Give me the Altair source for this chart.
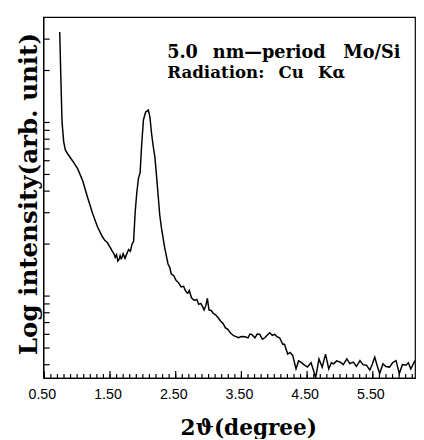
import altair as alt
import pandas as pd

# 2-theta (degree) and log intensity (arb. unit)
angle = [0.735, 0.750, 0.770, 0.795, 0.819, 0.860, 0.934, 1.009, 1.084, 1.159,
         1.234, 1.309, 1.384, 1.420, 1.459, 1.500, 1.534, 1.560, 1.579, 1.600,
         1.619, 1.640, 1.654, 1.670, 1.684, 1.700, 1.728, 1.750, 1.784, 1.810,
         1.834, 1.859, 1.883, 1.908, 1.934, 1.958, 1.983, 2.009, 2.043, 2.083,
         2.107, 2.133, 2.158, 2.182, 2.208, 2.233, 2.257, 2.283, 2.332, 2.383,
         2.410, 2.433, 2.470, 2.507, 2.540, 2.582, 2.620, 2.650, 2.683, 2.707,
         2.740, 2.782, 2.820, 2.850, 2.882, 2.910, 2.932, 2.960, 2.982, 3.006,
         3.040, 3.070, 3.107, 3.140, 3.182, 3.220, 3.257, 3.290, 3.331, 3.381,
         3.420, 3.456, 3.500, 3.556, 3.600, 3.630, 3.657, 3.706, 3.740, 3.781,
         3.820, 3.856, 3.890, 3.931, 3.970, 4.006, 4.040, 4.081, 4.130, 4.155,
         4.180, 4.205, 4.240, 4.280, 4.331, 4.370, 4.406, 4.450, 4.505, 4.560,
         4.605, 4.630, 4.680, 4.729, 4.780, 4.829, 4.870, 4.904, 4.950, 5.005,
         5.050, 5.104, 5.150, 5.204, 5.250, 5.304, 5.350, 5.403, 5.454, 5.490,
         5.529, 5.570, 5.604, 5.654, 5.700, 5.754, 5.800, 5.853, 5.903, 5.950,
         6.003, 6.040, 6.078, 6.110, 6.143]
intensity = [33.0, 19.2, 10.0, 7.71, 6.92, 6.51, 5.94, 5.36, 4.58, 3.67,
             2.98, 2.49, 2.18, 2.08, 2.02, 1.90, 1.80, 1.74, 1.66, 1.72,
             1.58, 1.62, 1.70, 1.63, 1.66, 1.74, 1.64, 1.72, 1.84, 1.80,
             1.97, 2.05, 3.02, 3.92, 4.76, 5.09, 7.51, 10.3, 11.4, 11.7,
             10.7, 8.55, 7.22, 6.34, 4.89, 3.77, 2.91, 2.45, 1.89, 1.52,
             1.45, 1.33, 1.30, 1.22, 1.19, 1.12, 1.13, 1.06, 1.03, 1.07,
             0.97, 0.937, 0.95, 0.89, 0.901, 0.86, 0.826, 0.88, 0.962, 0.826,
             0.82, 0.79, 0.774, 0.75, 0.713, 0.69, 0.651, 0.64, 0.610, 0.587,
             0.58, 0.571, 0.58, 0.579, 0.57, 0.60, 0.597, 0.571, 0.60, 0.597,
             0.56, 0.571, 0.59, 0.610, 0.59, 0.597, 0.58, 0.571, 0.524, 0.524,
             0.49, 0.460, 0.47, 0.452, 0.378, 0.42, 0.413, 0.40, 0.387, 0.41,
             0.362, 0.336, 0.431, 0.387, 0.460, 0.378, 0.41, 0.404, 0.42, 0.413,
             0.40, 0.431, 0.405, 0.413, 0.39, 0.422, 0.40, 0.397, 0.372, 0.40,
             0.441, 0.39, 0.355, 0.404, 0.39, 0.387, 0.41, 0.422, 0.355, 0.40,
             0.397, 0.41, 0.378, 0.40, 0.422]
assert len(angle) == len(intensity)

major_x = [0.5, 1.5, 2.5, 3.5, 4.5, 5.5]
minor_x = [0.5, 0.6, 0.7, 0.8, 0.9, 1.0, 1.1, 1.2, 1.3, 1.4, 1.5, 1.6, 1.7, 1.8,
           1.9, 2.0, 2.1, 2.2, 2.3, 2.4, 2.5, 2.6, 2.7, 2.8, 2.9, 3.0, 3.1, 3.2,
           3.3, 3.4, 3.5, 3.6, 3.7, 3.8, 3.9, 4.0, 4.1, 4.2, 4.3, 4.4, 4.5, 4.6,
           4.7, 4.8, 4.9, 5.0, 5.1, 5.2, 5.3, 5.4, 5.5, 5.6, 5.7, 5.8, 5.9, 6.0,
           6.1]
y_ticks = [0.4, 0.5, 0.6, 0.7, 0.8, 0.9, 1, 2, 3, 4, 5, 6, 7, 8, 9, 10, 20, 30]

note_lines = ["5.0\u2002 nm\u2014period\u2003Mo/Si", "Radiation:\u2002 Cu\u2002 K\u03b1"]
note_x = [2.37, 2.37]
note_y = [23.5, 17.9]

df = pd.DataFrame({"angle": angle, "intensity": intensity})
notes = pd.DataFrame({"text": note_lines, "x": note_x, "y": note_y,
                      "row": [0, 1]})
minor_df = pd.DataFrame({"t": minor_x})
major_df = pd.DataFrame({"t": major_x})

W, H = 379, 368
xscale = alt.Scale(domain=[0.485, 6.142], nice=False, zero=False)
yscale = alt.Scale(type="log", domain=[0.335, 40.2], nice=False)

yaxis = alt.Axis(values=y_ticks, labels=False, tickSize={"expr": "-6"},
                 title="Log intensity(arb. unit)", titleFont="DejaVu Serif",
                 titleFontWeight="bold", titleFontSize=25, titleColor="black",
                 titleX=-15, titleY=180, titleAngle=270, titleAlign="center",
                 titleBaseline="middle", grid=False, domainColor="black",
                 tickColor="black", domainWidth=1.2, tickWidth=1.2)

xaxis = alt.Axis(values=major_x, format=".2f", ticks=False,
                 orient="bottom", grid=False, domainColor="black",
                 domainWidth=1.2,
                 labelFont="Liberation Sans", labelFontSize=14.5,
                 labelColor="black", labelPadding=10, labelOffset=-2.5,
                 title="2\u03d1(degree)", titleFont="DejaVu Serif",
                 titleFontWeight="bold", titleFontSize=22, titleColor="black",
                 titleX=209, titleY=51, titleAlign="center",
                 titleBaseline="middle")

line = alt.Chart(df).mark_line(color="black", strokeWidth=1.5, clip=True).encode(
    x=alt.X("angle:Q", scale=xscale, axis=xaxis),
    y=alt.Y("intensity:Q", scale=yscale, axis=yaxis),
)

# inward x ticks along the bottom edge (minor every 0.1, major at the labels)
minor_ticks = alt.Chart(minor_df).mark_rule(color="black", strokeWidth=1.2).encode(
    x=alt.X("t:Q", scale=xscale, axis=xaxis),
    y=alt.value(H), y2=alt.value(H - 4),
)
major_ticks = alt.Chart(major_df).mark_rule(color="black", strokeWidth=1.2).encode(
    x=alt.X("t:Q", scale=xscale, axis=xaxis),
    y=alt.value(H), y2=alt.value(H - 7),
)


def note(row, size):
    return alt.Chart(notes).transform_filter(alt.datum.row == row).mark_text(
        align="left", baseline="alphabetic", font="DejaVu Serif",
        fontWeight="bold", fontSize=size, color="black"
    ).encode(
        x=alt.X("x:Q", scale=xscale, axis=xaxis),
        y=alt.Y("y:Q", scale=yscale, axis=yaxis),
        text="text:N",
    )


chart = alt.layer(line, minor_ticks, major_ticks, note(0, 18), note(1, 17)
).properties(
    width=W, height=H,
    autosize=alt.AutoSizeParams(type="none"),
    padding={"left": 36, "top": 5, "right": 1, "bottom": 58},
    background="white",
).configure_view(stroke="black", strokeWidth=1.2)

chart.save("out.html", embed_options={"renderer": "svg", "actions": False})
